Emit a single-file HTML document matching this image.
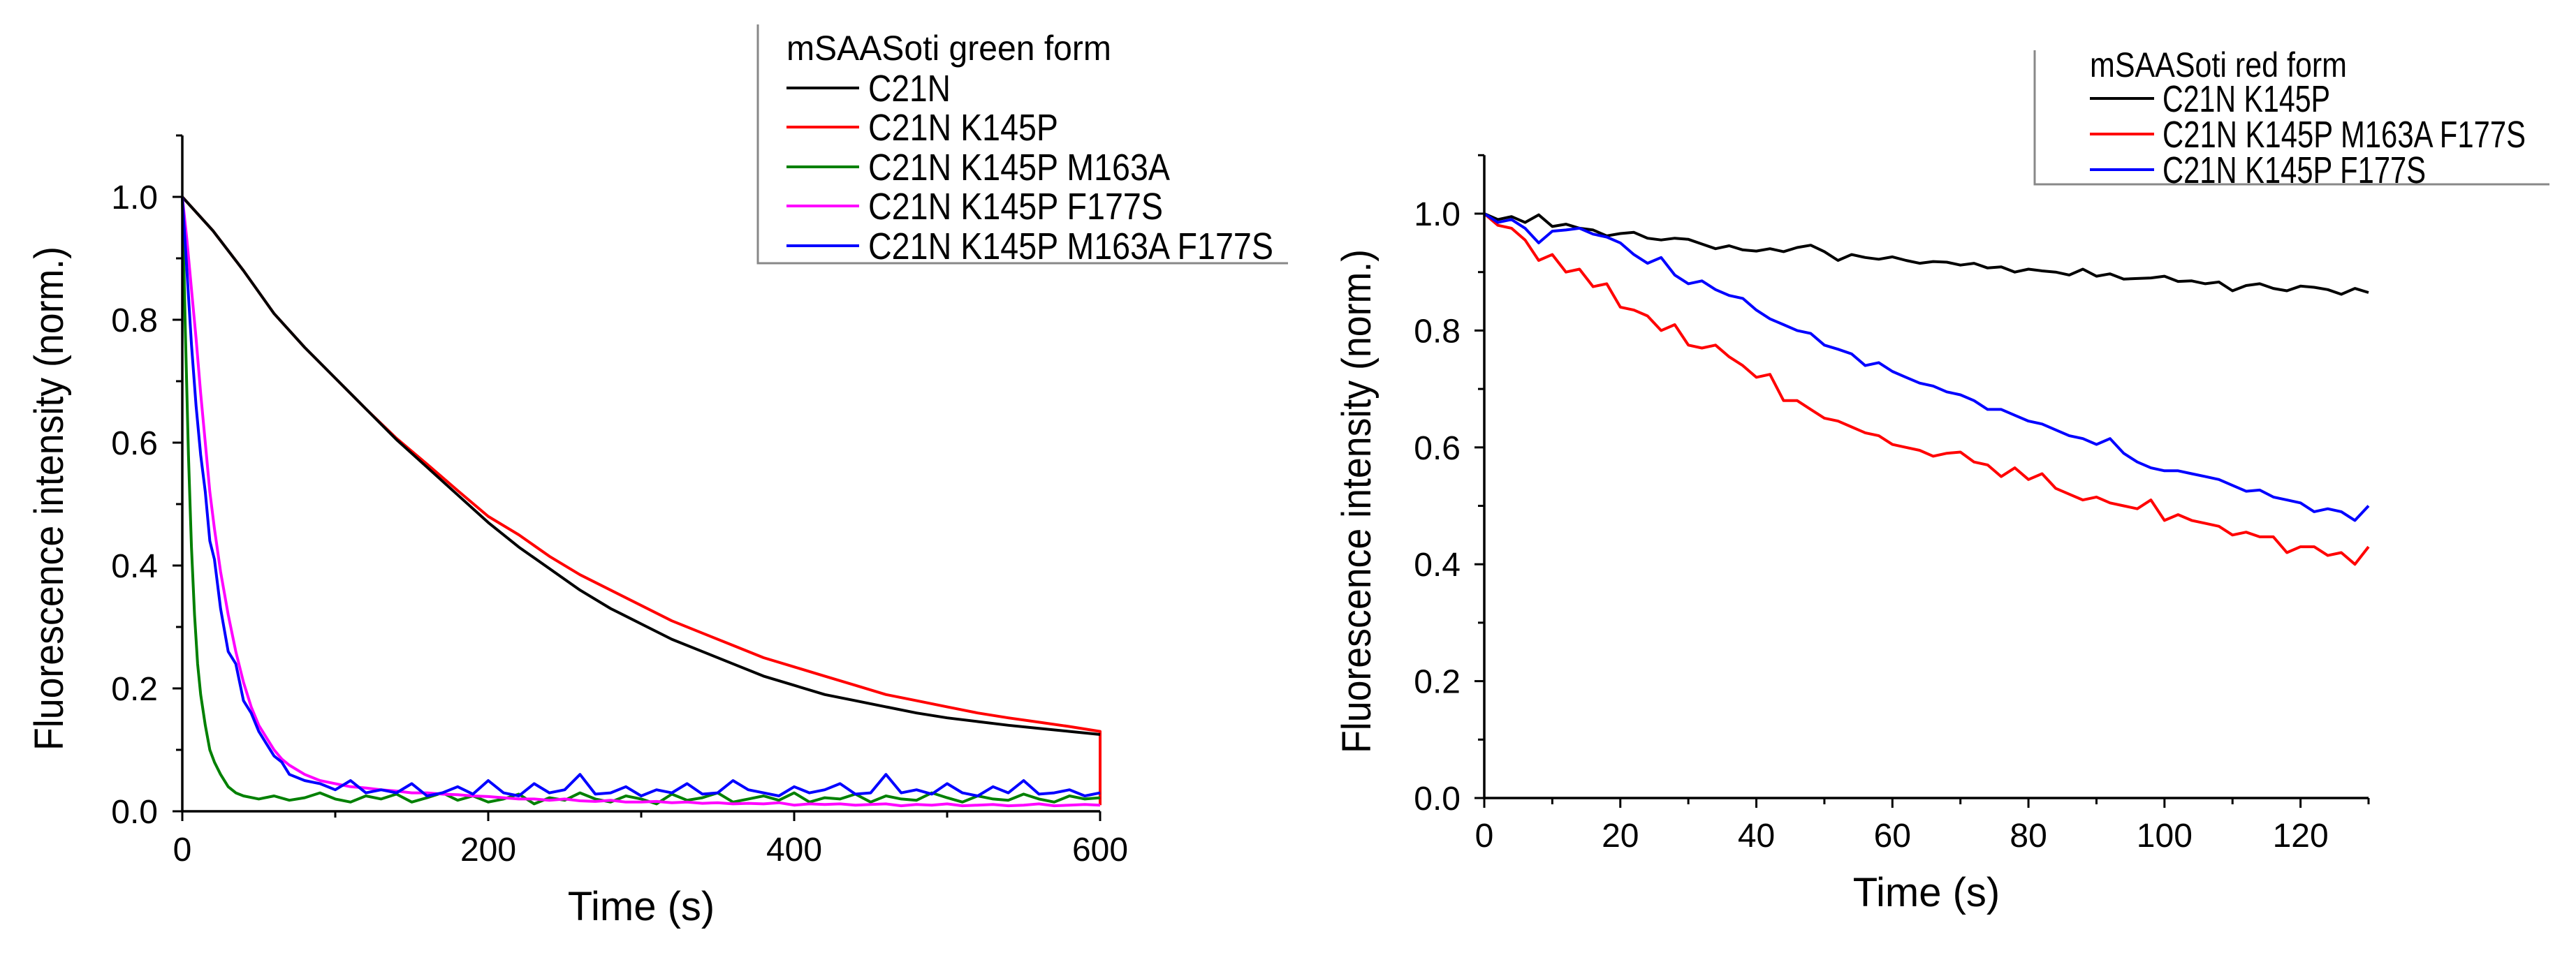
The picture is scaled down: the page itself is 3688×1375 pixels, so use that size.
<!DOCTYPE html>
<html><head><meta charset="utf-8"><style>html,body{margin:0;padding:0;background:#fff}svg{display:block}text{font-family:"Liberation Sans",Arial,sans-serif;fill:#000}</style></head>
<body>
<svg id="fig" width="3688" height="1375" viewBox="0 0 3688 1375" xmlns="http://www.w3.org/2000/svg"></svg>
<script>
// ---------- Left chart data (green form) ----------
const lt20 = [0,20,40,60,80,100,120,140,160,180,200,220,240,260,280,300,320,340,360,380,400,420,440,460,480,500,520,540,560,580,600];
const c21n = [1.0,0.945,0.88,0.81,0.755,0.705,0.655,0.605,0.56,0.515,0.47,0.43,0.395,0.36,0.33,0.305,0.28,0.26,0.24,0.22,0.205,0.19,0.18,0.17,0.16,0.152,0.146,0.14,0.135,0.13,0.125];
const c21nK145P = [1.0,0.945,0.88,0.81,0.755,0.705,0.655,0.607,0.565,0.522,0.48,0.45,0.415,0.385,0.36,0.335,0.31,0.29,0.27,0.25,0.235,0.22,0.205,0.19,0.18,0.17,0.16,0.152,0.145,0.138,0.13];
const tailT = [130,140,150,160,170,180,190,200,210,220,230,240,250,260,270,280,290,300,310,320,330,340,350,360,370,380,390,400,410,420,430,440,450,460,470,480,490,500,510,520,530,540,550,560,570,580,590,600];
const greenT = [0,2,4,6,8,10,12,15,18,21,25,30,35,40,50,60,70,80,90,100,110,120];
const greenEarly = [1.0,0.78,0.58,0.43,0.32,0.24,0.19,0.14,0.1,0.08,0.06,0.04,0.03,0.025,0.02,0.025,0.018,0.022,0.03,0.02,0.015,0.025];
const greenTail = [0.02,0.028,0.015,0.022,0.03,0.018,0.025,0.015,0.02,0.028,0.012,0.022,0.018,0.03,0.02,0.015,0.025,0.02,0.012,0.028,0.018,0.022,0.03,0.015,0.02,0.025,0.018,0.03,0.015,0.022,0.02,0.028,0.015,0.025,0.02,0.018,0.03,0.022,0.015,0.025,0.02,0.018,0.028,0.02,0.015,0.025,0.02,0.022];
const fastT = [0,3,6,9,12,15,18,21,25,30,35,40,45,50,55,60,65,70,80,90,100,110,120];
const blueEarly = [1.0,0.88,0.76,0.66,0.58,0.52,0.44,0.41,0.33,0.26,0.24,0.18,0.16,0.13,0.11,0.09,0.08,0.06,0.05,0.045,0.035,0.05,0.03];
const blueTail = [0.035,0.03,0.045,0.025,0.03,0.04,0.028,0.05,0.03,0.025,0.045,0.03,0.035,0.06,0.028,0.03,0.04,0.025,0.035,0.03,0.045,0.028,0.03,0.05,0.035,0.03,0.025,0.04,0.03,0.035,0.045,0.028,0.03,0.06,0.03,0.035,0.028,0.045,0.03,0.025,0.04,0.03,0.05,0.028,0.03,0.035,0.025,0.03];
const magentaEarly = [1.0,0.93,0.85,0.77,0.68,0.6,0.52,0.46,0.39,0.32,0.26,0.21,0.17,0.14,0.12,0.1,0.085,0.075,0.06,0.05,0.045,0.04,0.038];
const magentaTail = [0.035,0.033,0.03,0.03,0.028,0.027,0.025,0.024,0.022,0.02,0.02,0.018,0.02,0.017,0.016,0.018,0.015,0.015,0.016,0.014,0.015,0.013,0.014,0.012,0.013,0.012,0.014,0.01,0.012,0.011,0.012,0.01,0.011,0.012,0.009,0.011,0.01,0.012,0.009,0.01,0.011,0.009,0.01,0.012,0.009,0.01,0.011,0.01];
const leftXTicks = [0,200,400,600];
const leftYTicks = [0.0,0.2,0.4,0.6,0.8,1.0];
const leftYLabels = ["0.0","0.2","0.4","0.6","0.8","1.0"];

// ---------- Right chart data (red form) ----------
const rt = [0,2,4,6,8,10,12,14,16,18,20,22,24,26,28,30,32,34,36,38,40,42,44,46,48,50,52,54,56,58,60,62,64,66,68,70,72,74,76,78,80,82,84,86,88,90,92,94,96,98,100,102,104,106,108,110,112,114,116,118,120,122,124,126,128,130];
const redK145P = [1.0,0.99,0.995,0.985,0.998,0.978,0.982,0.975,0.972,0.962,0.966,0.968,0.958,0.955,0.958,0.956,0.948,0.94,0.945,0.938,0.936,0.94,0.935,0.942,0.946,0.935,0.92,0.93,0.925,0.922,0.926,0.92,0.915,0.918,0.917,0.912,0.915,0.907,0.909,0.9,0.905,0.902,0.9,0.895,0.905,0.893,0.897,0.888,0.889,0.89,0.893,0.884,0.885,0.88,0.883,0.868,0.877,0.88,0.872,0.868,0.876,0.874,0.87,0.862,0.872,0.865];
const redM163AF177S = [1.0,0.98,0.975,0.955,0.92,0.93,0.9,0.905,0.875,0.88,0.84,0.835,0.825,0.8,0.81,0.775,0.77,0.775,0.755,0.74,0.72,0.725,0.68,0.68,0.665,0.65,0.645,0.635,0.625,0.62,0.605,0.6,0.595,0.585,0.59,0.592,0.575,0.57,0.55,0.565,0.545,0.555,0.53,0.52,0.51,0.515,0.505,0.5,0.495,0.51,0.475,0.485,0.475,0.47,0.465,0.45,0.455,0.447,0.447,0.42,0.43,0.43,0.415,0.42,0.4,0.43];
const redF177S = [1.0,0.985,0.99,0.975,0.95,0.97,0.972,0.975,0.965,0.96,0.95,0.93,0.915,0.925,0.895,0.88,0.885,0.87,0.86,0.855,0.835,0.82,0.81,0.8,0.795,0.775,0.768,0.76,0.74,0.745,0.73,0.72,0.71,0.705,0.695,0.69,0.68,0.665,0.665,0.655,0.645,0.64,0.63,0.62,0.615,0.605,0.615,0.59,0.575,0.565,0.56,0.56,0.555,0.55,0.545,0.535,0.525,0.527,0.515,0.51,0.505,0.49,0.495,0.49,0.475,0.5];
const rightXTicks = [0,20,40,60,80,100,120];
const rightYTicks = [0.0,0.2,0.4,0.6,0.8,1.0];
const rightYLabels = ["0.0","0.2","0.4","0.6","0.8","1.0"];

const NS = "http://www.w3.org/2000/svg";
const svg = document.getElementById('fig');
function mk(tag, attrs, parent){const e=document.createElementNS(NS,tag);for(const k in attrs)e.setAttribute(k,attrs[k]);(parent||svg).appendChild(e);return e;}
function txt(str, attrs, parent){const e=mk('text',attrs,parent);e.textContent=str;return e;}

function drawChart(o){
  const g = mk('g',{});
  
  
  const sx = v => o.x0 + (v - o.xmin) / (o.xmax - o.xmin) * (o.x1 - o.x0);
  const sy = v => o.y0 - v / 1.0 * (o.y0 - o.y1);
  const yTop = sy(1.1);
  o.series.forEach(s => {
    let d = '';
    s.t.forEach((t,i) => { d += (i?'L':'M') + sx(t).toFixed(1) + ',' + sy(s.v[i]).toFixed(1); });
    const p = mk('path',{d:d,fill:'none',stroke:s.color,'stroke-width':4,'stroke-linejoin':'round'},g);
    
    
  });
  const ax = mk('path',{d:`M${o.x0},${yTop}L${o.x0},${o.y0}L${o.x1},${o.y0}`,fill:'none',stroke:'#000','stroke-width':3.5},g);
  
  
  for (let v = o.xmin; v <= o.xmax + 1e-9; v += o.xMinor) {
    const major = o.xTicks.some(t => Math.abs(t - v) < 1e-6);
    mk('line',{x1:sx(v),x2:sx(v),y1:o.y0,y2:o.y0 + (major?14:9),stroke:'#000','stroke-width':3},g);
  }
  o.xTicks.forEach(v => {
    const t = txt(String(v),{x:sx(v),y:o.xLabY,'font-size':48,'text-anchor':'middle'},g);
    
    
  });
  for (let k = 0; k <= 11; k++) {
    const v = k * 0.1;
    const major = k % 2 === 0;
    mk('line',{x1:o.x0 - (major?14:9),x2:o.x0,y1:sy(v),y2:sy(v),stroke:'#000','stroke-width':3},g);
  }
  o.yTicks.forEach((v,i) => {
    const t = txt(o.yLabels[i],{x:o.yLabX,y:sy(v)+17,'font-size':48,'text-anchor':'end'},g);
    
    
  });
  const xt = txt('Time (s)',{x:(o.x0+o.x1)/2,y:o.xTitleY,'font-size':58,'text-anchor':'middle'},g);
  
  
  const yt = txt('Fluorescence intensity (norm.)',{x:0,y:0,'font-size':58,'text-anchor':'middle',textLength:722,lengthAdjust:'spacingAndGlyphs',transform:`translate(${o.yTitleX},${o.yTitleY}) rotate(-90)`},g);
  
  
  const L = o.legend;
  const lg = mk('g',{},g);
  
  
  mk('path',{d:`M${L.x},${L.top}L${L.x},${L.bottom}L${L.right},${L.bottom}`,fill:'none',stroke:'#888','stroke-width':3},lg);
  const lt = txt(L.title,{x:L.titleX,y:L.titleY+17,'font-size':50,textLength:L.titleW,lengthAdjust:'spacingAndGlyphs'},lg);
  
  
  L.entries.forEach((e,i) => {
    const y = L.rows[i];
    const eg = mk('g',{},lg);
    
    
    mk('line',{x1:L.lx0,x2:L.lx1,y1:y,y2:y,stroke:e[1],'stroke-width':4},eg);
    txt(e[0],{x:L.tx,y:y+19,'font-size':54,textLength:e[2],lengthAdjust:'spacingAndGlyphs'},eg);
  });
}

drawChart({
  name:'green-form-chart', x0:261, x1:1575, xmin:0, xmax:600, y0:1162, y1:282, xMinor:100,
  xTicks:leftXTicks, yTicks:leftYTicks, yLabels:leftYLabels, xLabY:1233, yLabX:226,
  xTitleY:1318, yTitleX:90, yTitleY:714,
  series:[
    {name:'series-c21n-k145p', color:'#ff0000', t:lt20.concat([600]), v:c21nK145P.concat([0.01])},
    {name:'series-c21n', color:'#000000', t:lt20, v:c21n},
    {name:'series-m163a', color:'#008000', t:greenT.concat(tailT), v:greenEarly.concat(greenTail)},
    {name:'series-f177s', color:'#ff00ff', t:fastT.concat(tailT), v:magentaEarly.concat(magentaTail)},
    {name:'series-m163a-f177s', color:'#0000ff', t:fastT.concat(tailT), v:blueEarly.concat(blueTail)}
  ],
  legend:{x:1085, top:35, bottom:377, right:1844, title:'mSAASoti  green form', titleX:1126, titleY:69, titleW:465, lx0:1126, lx1:1230, tx:1243, rows:[126,182,239,295,352],
    entries:[['C21N','#000000',118],['C21N K145P','#ff0000',272],['C21N K145P M163A','#008000',432],['C21N K145P F177S','#ff00ff',422],['C21N K145P M163A F177S','#0000ff',580]]}
});

drawChart({
  name:'red-form-chart', x0:2125, x1:3391, xmin:0, xmax:130, y0:1143, y1:306, xMinor:10,
  xTicks:rightXTicks, yTicks:rightYTicks, yLabels:rightYLabels, xLabY:1213, yLabX:2091,
  xTitleY:1298, yTitleX:1962, yTitleY:718,
  series:[
    {name:'series-red-k145p', color:'#000000', t:rt, v:redK145P},
    {name:'series-red-m163a-f177s', color:'#ff0000', t:rt, v:redM163AF177S},
    {name:'series-red-f177s', color:'#0000ff', t:rt, v:redF177S}
  ],
  legend:{x:2913, top:72, bottom:264, right:3650, title:'mSAASoti  red form', titleX:2992, titleY:93, titleW:368, lx0:2992, lx1:3084, tx:3096, rows:[141,192,243],
    entries:[['C21N K145P','#000000',240],['C21N K145P M163A F177S','#ff0000',520],['C21N K145P F177S','#0000ff',377]]}
});
</script>
</body></html>
